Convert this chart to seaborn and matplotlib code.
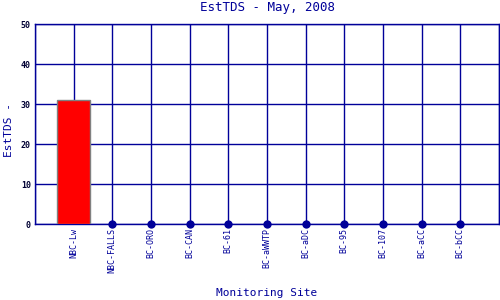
import matplotlib
matplotlib.use("Agg")
import matplotlib.pyplot as plt
import seaborn as sns
import pandas as pd

sites = ["NBC-Lw", "NBC-FALLS", "BC-ORO", "BC-CAN", "BC-61", "BC-aWWTP",
         "BC-aDC", "BC-95", "BC-107", "BC-aCC", "BC-bCC"]
values = [31, 0, 0, 0, 0, 0, 0, 0, 0, 0, 0]
yticks = [0, 10, 20, 30, 40, 50]

navy = "#000099"
df = pd.DataFrame({"site": sites, "value": values})
bars = df[df["value"] > 0]
dots = df[df["value"] == 0]

sns.set_style("white")
plt.rcParams["font.family"] = ["DejaVu Sans Mono"]

fig = plt.figure(figsize=(5, 3), dpi=100)
ax = fig.add_axes([0.07, 0.2533, 0.928, 0.6667])

sns.barplot(data=bars, x="site", y="value", order=sites, color="#ff0000",
            saturation=1, width=0.85, edgecolor="#808080", linewidth=1,
            ax=ax, zorder=3)
sns.stripplot(data=dots, x="site", y="value", order=sites, jitter=False,
              color=navy, size=6, ax=ax, zorder=4)
for c in ax.collections:
    c.set_clip_on(False)

ax.set_xlim(-1, len(sites))
ax.set_ylim(0, 50)
ax.set_yticks(yticks)
ax.set_yticklabels([str(v) for v in yticks], fontsize=6, color="#000033",
                   fontweight="bold")
ax.set_xticks(range(len(sites)))
ax.set_xticklabels(sites, rotation=90, fontsize=6, color=navy)
ax.tick_params(axis="both", length=0, pad=3)
ax.set_xlabel("")
ax.set_ylabel("")

for i in range(-1, len(sites) + 1):
    ax.axvline(i, color=navy, lw=1, zorder=1)
for v in yticks:
    ax.axhline(v, color=navy, lw=1, zorder=1)
for s in ax.spines.values():
    s.set_color(navy)
    s.set_linewidth(1)

fig.text(267 / 500, 1 - 8 / 300, "EstTDS - May, 2008", fontsize=9,
         color=navy, ha="center", va="center")
fig.text(267 / 500, 1 - 293 / 300, "Monitoring Site", fontsize=8,
         color=navy, ha="center", va="center")
fig.text(9 / 500, 1 - 130 / 300, "EstTDS -", fontsize=8, color=navy,
         ha="center", va="center", rotation=90)

fig.savefig("out.png", dpi=100)
